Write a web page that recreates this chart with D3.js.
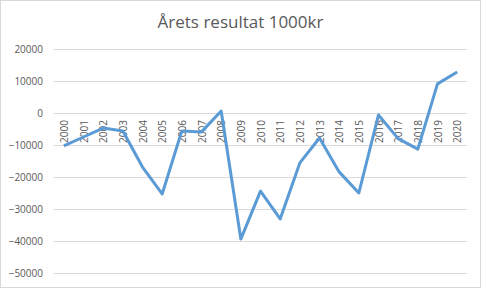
<!DOCTYPE html>
<html>
<head>
<meta charset="utf-8">
<script src="https://cdn.jsdelivr.net/npm/d3@7"></script>
<style>
  body { margin: 0; background: #fff; }
  text { font-family: "Open Sans", "Liberation Sans", sans-serif; fill: #595959; }
</style>
</head>
<body>
<div id="chart"></div>
<script>
// data
const years = ["2000","2001","2002","2003","2004","2005","2006","2007","2008","2009",
               "2010","2011","2012","2013","2014","2015","2016","2017","2018","2019","2020"];
const results = [-10300, -7500, -4700, -5600, -16900, -25300, -5600, -5900, 600, -39400,
                 -24400, -33100, -15600, -7800, -18400, -25000, -600, -8000, -11300, 9100, 12800];
const yTicks = [20000, 10000, 0, -10000, -20000, -30000, -40000, -50000];

const W = 481, H = 288;
const margin = {top: 49, right: 14, bottom: 15, left: 54};
const width = W - margin.left - margin.right,
      height = H - margin.top - margin.bottom;

const root = d3.select("#chart").append("svg")
  .attr("width", W)
  .attr("height", H);

// outer chart border
root.append("rect")
  .attr("x", 0.5).attr("y", 0.5)
  .attr("width", W - 1).attr("height", H - 1)
  .attr("fill", "#fff").attr("stroke", "#d9d9d9");

root.append("text")
  .attr("x", W / 2)
  .attr("y", 28)
  .attr("text-anchor", "middle")
  .attr("font-size", "17px")
  .text("Årets resultat 1000kr");

const svg = root.append("g")
  .attr("transform", `translate(${margin.left},${margin.top})`);

const x = d3.scaleBand()
  .domain(years)
  .range([0, width]);

const y = d3.scaleLinear()
  .domain([-50000, 20000])
  .range([height, 0]);

// gridlines + y labels
const yAxis = svg.append("g")
  .call(d3.axisLeft(y).tickValues(yTicks).tickSize(-width).tickFormat(d3.format("d")));
yAxis.select(".domain").remove();
yAxis.selectAll("line").attr("stroke", "#d9d9d9");
yAxis.selectAll("text")
  .attr("x", -11)
  .attr("font-size", "10px")
  .attr("fill", "#595959");

// x labels sit just under the zero line
svg.append("g")
  .selectAll("text")
  .data(years)
  .join("text")
    .attr("transform", d => `translate(${x(d) + x.bandwidth() / 2 + 4},${y(0) + 7})rotate(-90)`)
    .attr("text-anchor", "end")
    .attr("font-size", "10px")
    .text(d => d);

const line = d3.line()
  .x((d, i) => x(years[i]) + x.bandwidth() / 2)
  .y(d => y(d));

svg.append("path")
  .datum(results)
  .attr("fill", "none")
  .attr("stroke", "#5b9bd5")
  .attr("stroke-width", 3)
  .attr("stroke-linejoin", "round")
  .attr("d", line);
</script>
</body>
</html>
